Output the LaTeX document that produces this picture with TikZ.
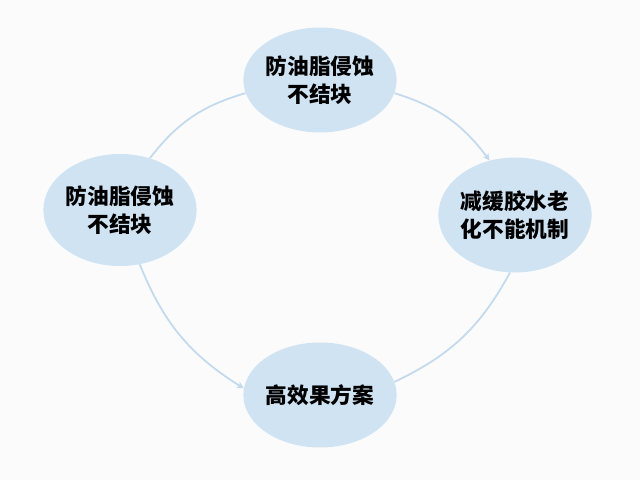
\documentclass[tikz,border=0pt]{standalone}
\usepackage{fontspec}
\newfontfamily\cjk{Noto Sans CJK SC}
\usetikzlibrary{shapes.geometric,arrows.meta}
\definecolor{ebg}{HTML}{CFE3F3}
\definecolor{ln}{HTML}{C3DAEE}
\begin{document}
\begin{tikzpicture}[x=0.03cm,y=-0.03cm,
  el/.style={ellipse,fill=ebg,minimum width=150*0.03cm,minimum height=105*0.03cm,align=center,font=\cjk\bfseries\fontsize{18.5pt}{24pt}\selectfont,inner sep=0pt},
  cn/.style={draw=ln,line width=1.5pt},
  ar/.style={cn,-{Stealth[length=6pt,width=6pt]}}]
\fill[white!97!gray] (0,0) rectangle (640,480);
\useasboundingbox (0,0) rectangle (640,480);
\node[el] (t) at (320,80) {防油脂侵蚀\\不结块};
\node[el,minimum height=112*0.03cm] (l) at (120,210) {防油脂侵蚀\\不结块};
\node[el,minimum height=115*0.03cm] (r) at (515,215) {减缓胶水老\\化不能机制};
\node[el] (b) at (320,395) {高效果方案};
\draw[cn] (l.60) to[bend left=18] (t.190);
\draw[ar] (t.-10) to[bend left=18] (r.115);
\draw[cn] (r.-95) to[bend left=18] (b.10);
\draw[ar] (l.-70) to[bend right=18] (b.175);
\end{tikzpicture}
\end{document}
